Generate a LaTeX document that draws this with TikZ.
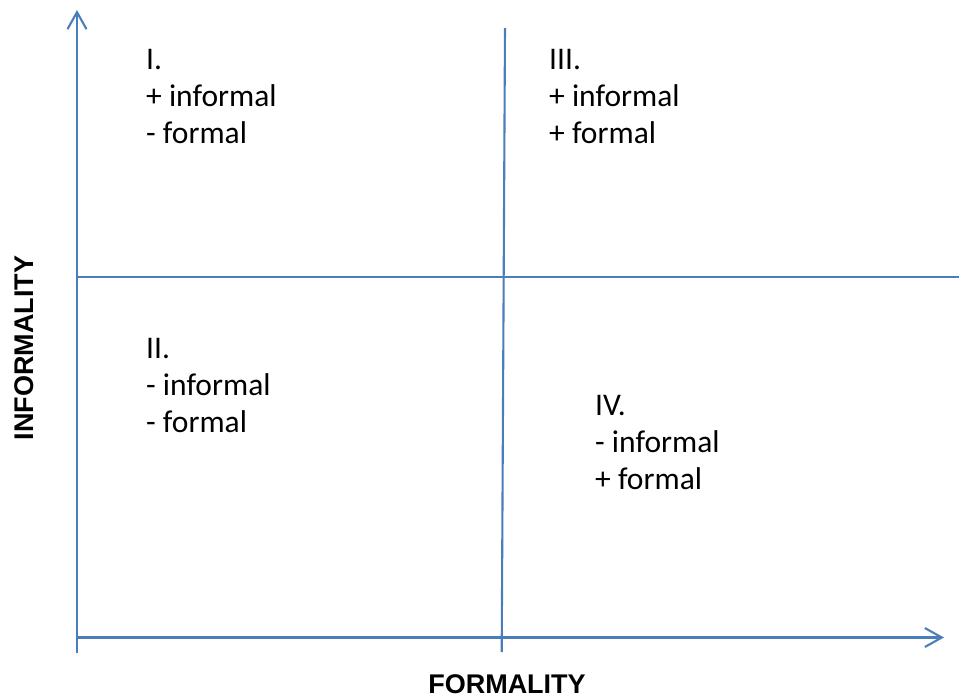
\documentclass[tikz,border=0pt]{standalone}
\usepackage{fontspec}
\setmainfont{Carlito}
\newfontfamily\axisfont{Liberation Sans}
\usetikzlibrary{arrows.meta}
\definecolor{axisblue}{HTML}{4A7EBB}
\tikzset{
  axisline/.style={draw=axisblue, line width=2.1pt},
  axisarrow/.style={axisline, -{Straight Barb[length=17pt,width=19pt,line width=2.1pt]}},
  quadtext/.style={anchor=base west, inner sep=0pt, align=left,
    font=\fontsize{31.5}{37}\selectfont},
  axislabel/.style={inner sep=0pt, font=\axisfont\bfseries\fontsize{27}{30}\selectfont}
}
\begin{document}
\begin{tikzpicture}[x=1pt,y=-1pt]
\useasboundingbox (0,0) rectangle (959,697);
\coordinate (vbot) at (77,653);
\coordinate (vtop) at (77,10);
\coordinate (hleft) at (77,637.5);
\coordinate (hright) at (944,637.5);
\coordinate (mleft) at (77,277);
\coordinate (mright) at (959,277);
\coordinate (ctop) at (505,28);
\coordinate (cbot) at (501.7,652);
\draw[axisarrow] (vbot) -- (vtop);
\draw[axisarrow] (hleft) -- (hright);
\draw[axisline] (mleft) -- (mright);
\draw[axisline] (ctop) -- (cbot);
% anchor: baseline of the last line
\node[quadtext] (q1) at (146,143) {I.\\+ informal\\- formal};
\node[quadtext] (q3) at (549,143) {III.\\+ informal\\+ formal};
\node[quadtext] (q2) at (146,432) {II.\\- informal\\- formal};
\node[quadtext] (q4) at (595,489) {IV.\\- informal\\+ formal};
\node[axislabel, rotate=90] (ylab) at (24,348) {INFORMALITY};
\node[axislabel, anchor=base] (xlab) at (507,693) {FORMALITY};
\end{tikzpicture}
\end{document}
